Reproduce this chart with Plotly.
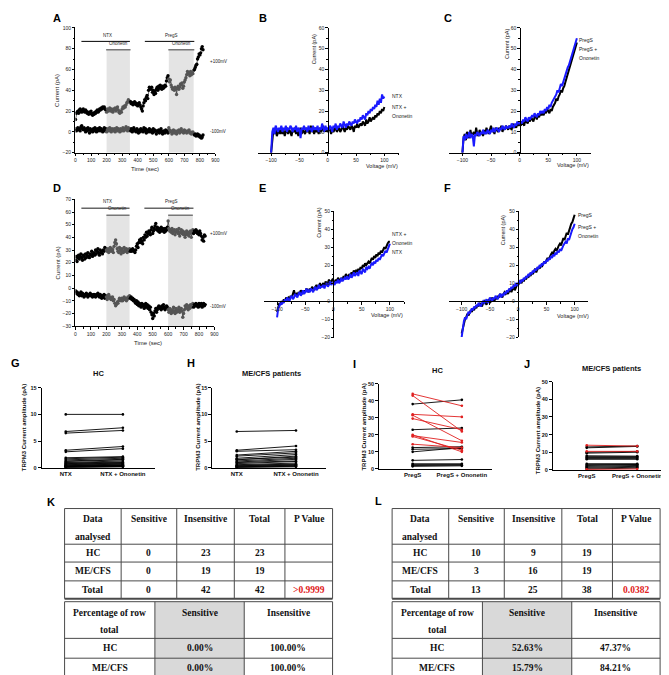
import plotly.graph_objects as go

W, H = 669, 675
def fx(p): return p / W
def fy(p): return 1 - p / H

# ---------------- DATA ----------------
# Panel A: time course (sec) and current (pA)
T_A = list(range(0, 821, 5))
A_hi = [12, 18, 19, 20, 18, 21, 22, 20, 19, 21, 22, 20,
        19, 21, 20, 18, 19, 17, 19, 18, 20, 17, 16, 18,
        17, 19, 18, 20, 21, 19, 20, 22, 21, 23, 22, 24,
        23, 24, 22, 21, 19, 22, 20, 21, 23, 20, 22, 21,
        19, 22, 21, 23, 20, 22, 24, 21, 19, 18, 20, 19,
        22, 24, 23, 25, 24, 26, 28, 29, 31, 30, 28, 29,
        27, 28, 26, 27, 29, 28, 26, 27, 25, 27, 28, 26,
        24, 22, 20, 25, 28, 31, 30, 33, 35, 32, 40, 43,
        42, 41, 43, 38, 40, 36, 39, 37, 41, 43, 40, 44,
        42, 45, 43, 41, 44, 42, 43, 45, 44, 49, 52, 54,
        51, 48, 50, 45, 43, 41, 42, 40, 43, 41, 36, 42,
        44, 41, 43, 46, 45, 47, 42, 44, 48, 50, 52, 55,
        58, 56, 57, 54, 58, 55, 57, 56, 59, 60, 62, 64,
        65, 70, 72, 75, 74, 76, 80, 82, 79]
A_lo = [3, 1, 2, 4, 2, 3, 1, 5, 6, 3, 2, 4,
        2, 0, 3, 1, 4, 2, -1, 3, 1, 2, 0, 3,
        1, 4, 2, 0, 3, 1, 2, 4, 1, 3, 2, 0,
        2, 4, 1, 3, 0, 2, 3, 1, 4, 2, 0, 3,
        2, 1, 3, 0, 2, 4, 1, 3, 2, 0, 3, 1,
        2, 4, 1, 3, 2, 5, 3, 1, 4, 2, 3, 1,
        3, 0, 2, 4, 1, 2, 0, 3, 1, -1, 2, 0,
        3, 1, 2, 0, 4, 1, 3, -1, 2, 0, 1, 3,
        0, 2, 1, -1, 3, 0, 2, 1, -2, 1, 0, 2,
        -1, 1, 3, 0, -2, 1, 0, -1, 2, 0, 1, -1,
        4, 2, 0, 1, -2, 0, 2, -1, 1, 0, -2, 1,
        0, 2, -1, 1, 3, 0, 1, -1, 2, 0, 1, -1,
        0, 1, 2, -1, 0, -2, -1, 0, -2, -3, -2, -4,
        -3, -2, -4, -3, -5, -4, -6, -5, -3]

# Panel D
T_D = list(range(0, 841, 5))
D_hi = [22, 25, 21, 24, 26, 23, 25, 27, 24, 22, 26, 25,
        23, 27, 24, 26, 28, 25, 24, 27, 26, 29, 25, 27,
        28, 26, 30, 27, 29, 31, 28, 26, 30, 28, 29, 27,
        30, 29, 32, 31, 30, 29, 31, 28, 30, 32, 29, 31,
        30, 28, 33, 36, 38, 35, 31, 29, 28, 32, 30, 27,
        31, 29, 28, 32, 30, 29, 31, 28, 30, 29, 31, 29,
        30, 29, 31, 30, 29, 28, 30, 33, 35, 32, 36, 38,
        36, 39, 37, 35, 40, 38, 42, 40, 44, 41, 43, 45,
        44, 42, 46, 48, 43, 45, 47, 49, 51, 46, 48, 45,
        47, 44, 46, 48, 45, 47, 46, 44, 47, 45, 46, 48,
        53, 47, 45, 46, 44, 47, 43, 45, 46, 42, 44, 46,
        45, 43, 47, 41, 44, 46, 43, 45, 42, 44, 40, 43,
        45, 42, 44, 41, 43, 45, 40, 44, 46, 43, 45, 44,
        46, 45, 43, 44, 42, 45, 43, 41, 38, 40, 37, 42,
        41]
D_lo = [-2, -4, -3, -5, -4, -6, -5, -3, -6, -4, -5, -7,
        -5, -6, -4, -5, -7, -6, -5, -4, -6, -5, -7, -6,
        -5, -6, -7, -5, -6, -4, -6, -7, -5, -6, -8, -6,
        -7, -5, -8, -6, -7, -9, -6, -5, -8, -7, -9, -8,
        -7, -10, -9, -12, -14, -13, -11, -12, -10, -8, -9, -10,
        -8, -10, -9, -7, -9, -8, -10, -9, -7, -8, -6, -8,
        -7, -9, -8, -10, -9, -11, -12, -10, -13, -11, -14, -12,
        -13, -15, -12, -14, -13, -16, -14, -12, -15, -13, -16, -14,
        -17, -15, -19, -21, -24, -20, -22, -18, -16, -19, -17, -15,
        -14, -16, -15, -17, -14, -16, -13, -15, -17, -16, -14, -15,
        -17, -19, -16, -18, -20, -17, -19, -15, -18, -20, -16, -19,
        -17, -18, -15, -19, -17, -16, -18, -23, -20, -17, -14, -16,
        -13, -15, -17, -14, -16, -13, -15, -14, -12, -15, -13, -14,
        -12, -14, -13, -15, -12, -14, -13, -12, -15, -13, -12, -14,
        -13]

# I-V curves (mV, pA)
V = list(range(-100, 101, 2))
B_ntx = [0, 8, 11, 9, 12, 8, 10, 11, 9, 12,
         9, 11, 8, 10, 12, 9, 11, 10, 8, 11,
         10, 12, 9, 11, 8, 10, 12, 9, 11, 10,
         9, 12, 10, 11, 9, 13, 10, 11, 9, 12,
         10, 11, 9, 12, 10, 11, 13, 10, 12, 11,
         10, 12, 11, 9, 12, 10, 11, 13, 10, 11,
         12, 10, 11, 13, 11, 10, 12, 11, 13, 12,
         11, 13, 12, 10, 13, 12, 14, 12, 13, 14,
         13, 15, 14, 13, 16, 14, 15, 17, 15, 16,
         17, 16, 18, 17, 19, 18, 20, 19, 21, 20,
         22]
B_ono = [0, 10, 12, 9, 13, 11, 10, 12, 11, 13,
         10, 12, 11, 13, 10, 12, 11, 13, 12, 10,
         12, 11, 13, 10, 12, 11, 7, 12, 11, 13,
         11, 12, 10, 13, 11, 12, 10, 13, 11, 12,
         11, 13, 10, 12, 11, 14, 12, 10, 13, 11,
         12, 11, 13, 12, 10, 13, 12, 14, 11, 13,
         12, 14, 13, 12, 15, 13, 12, 14, 13, 15,
         14, 13, 15, 14, 16, 15, 14, 16, 15, 17,
         16, 18, 17, 16, 19, 18, 20, 19, 21, 20,
         22, 21, 23, 22, 25, 23, 26, 24, 28, 26,
         27]
C_preg = [0, 7, 9, 6, 10, 8, 7, 11, 8, 9,
          10, 8, 12, 9, 8, 11, 9, 10, 8, 11,
          9, 12, 10, 9, 11, 13, 10, 11, 9, 12,
          11, 10, 12, 11, 13, 10, 12, 11, 13, 12,
          11, 13, 12, 11, 14, 12, 13, 12, 14, 13,
          14, 13, 15, 14, 13, 16, 15, 14, 16, 15,
          17, 16, 15, 17, 18, 16, 18, 17, 19, 18,
          19, 18, 20, 19, 21, 20, 19, 21, 20, 22,
          23, 24, 26, 25, 27, 28, 30, 29, 31, 32,
          34, 36, 38, 39, 42, 44, 46, 48, 50, 52,
          53]
C_ono = [0, 8, 6, 9, 7, 8, 10, 7, 9, 8,
         3, 9, 8, 10, 9, 8, 10, 9, 11, 9,
         10, 9, 11, 10, 9, 11, 10, 12, 10, 11,
         12, 11, 10, 12, 11, 13, 12, 11, 13, 12,
         12, 13, 12, 14, 13, 12, 14, 13, 15, 14,
         14, 15, 14, 16, 15, 17, 16, 15, 17, 16,
         17, 18, 17, 19, 18, 17, 19, 18, 20, 19,
         20, 19, 21, 20, 22, 21, 23, 22, 24, 25,
         26, 27, 28, 30, 29, 31, 33, 32, 34, 36,
         37, 39, 41, 42, 44, 46, 48, 50, 52, 54,
         55]
E_ntx = [-9, -4, -3, -1, -2, 0, -1, 1, 0, 2,
         1, 0, 2, 3, 1, 2, 4, 3, 2, 4,
         5, 3, 4, 6, 4, 5, 7, 5, 6, 5,
         7, 6, 5, 7, 8, 6, 7, 9, 7, 8,
         8, 9, 7, 9, 10, 8, 9, 11, 9, 10,
         10, 9, 11, 10, 12, 10, 11, 13, 11, 12,
         13, 12, 14, 12, 13, 15, 13, 14, 16, 14,
         15, 16, 14, 17, 16, 15, 18, 17, 16, 19,
         18, 19, 18, 20, 21, 20, 22, 21, 23, 22,
         24, 23, 25, 26, 25, 27, 28, 27, 29, 31,
         32]
E_ono = [-6, -3, -1, -2, 0, -1, 1, 0, 2, 1,
         2, 1, 3, 2, 4, 6, 3, 4, 3, 5,
         4, 6, 5, 4, 6, 5, 7, 6, 5, 7,
         6, 8, 7, 6, 8, 9, 7, 8, 10, 8,
         9, 10, 8, 11, 9, 10, 12, 10, 11, 12,
         11, 10, 12, 11, 13, 12, 11, 13, 12, 14,
         13, 15, 14, 13, 15, 14, 16, 15, 17, 16,
         17, 16, 18, 17, 19, 18, 20, 19, 21, 20,
         21, 22, 21, 23, 24, 23, 25, 24, 26, 25,
         27, 26, 28, 27, 29, 30, 29, 31, 32, 33,
         33]
F_preg = [-18, -15, -12, -10, -9, -7, -8, -6, -5, -6,
          -4, -5, -3, -4, -2, -3, -1, -2, -3, -1,
          0, -1, -2, 0, 1, -1, 0, 2, 1, 0,
          2, 1, 3, 2, 4, 3, 2, 4, 5, 4,
          5, 4, 6, 7, 5, 7, 8, 6, 8, 9,
          9, 10, 11, 10, 12, 11, 13, 12, 14, 13,
          15, 14, 16, 15, 17, 18, 16, 18, 19, 18,
          20, 19, 21, 22, 21, 23, 24, 23, 25, 26,
          27, 26, 28, 29, 28, 30, 31, 32, 31, 33,
          35, 34, 36, 38, 37, 40, 41, 43, 44, 46,
          48]
F_ono = [-20, -14, -11, -9, -10, -8, -6, -7, -5, -4,
         -5, -3, -4, -2, -3, -1, -2, -3, -1, 0,
         -1, 0, 1, -1, 0, 2, 1, 0, 2, 1,
         3, 2, 1, 3, 4, 2, 4, 3, 5, 4,
         6, 5, 7, 6, 8, 7, 9, 8, 10, 9,
         10, 11, 10, 12, 11, 13, 12, 14, 13, 15,
         14, 16, 15, 17, 16, 18, 17, 19, 18, 20,
         19, 21, 20, 22, 21, 23, 22, 24, 23, 25,
         24, 26, 25, 27, 26, 28, 27, 29, 28, 30,
         31, 32, 33, 32, 35, 34, 37, 38, 40, 41,
         43]

# Paired amplitude panels (pA): before, after, sensitive flag
G_cats = ["NTX", "NTX + Ononetin"]
G_before = [10, 6.8, 6.5, 3.3, 3.0, 1.9, 1.7, 1.5, 1.3, 1.2, 1.0, 0.9, 0.8, 0.7, 0.6, 0.5, 0.4, 0.35, 0.3, 0.25, 0.2, 0.15, 0.1]
G_after = [10, 7.5, 7.0, 4.0, 3.6, 2.1, 2.0, 1.8, 1.6, 1.5, 1.3, 1.1, 1.0, 0.9, 0.8, 0.7, 0.6, 0.5, 0.45, 0.4, 0.3, 0.25, 0.2]
G_red = [0] * 23
H_before = [6.8, 3.3, 3.1, 2.4, 2.2, 1.8, 1.6, 1.5, 1.3, 1.1, 1.0, 0.8, 0.6, 0.5, 0.4, 0.3, 0.2, 0.15, 0.1]
H_after = [7.0, 4.1, 3.4, 3.1, 2.8, 2.5, 2.0, 2.2, 1.8, 1.6, 1.3, 1.2, 0.9, 0.7, 0.6, 0.5, 0.4, 0.3, 0.2]
H_red = [0] * 19
I_cats = ["PregS", "PregS + Ononetin"]
I_before = [44, 43, 38, 32, 31.5, 29.5, 23, 20, 19.5, 19, 14.5, 12.5, 11.5, 10, 5, 3, 2.5, 2, 1.5]
I_after = [37, 22, 40.5, 30.5, 16.5, 23, 24, 10, 15.5, 11, 12.5, 13, 12, 12.5, 5.5, 3, 2.5, 2.2, 1.8]
I_red = [1, 1, 0, 1, 1, 1, 0, 1, 1, 1, 1, 0, 0, 0, 0, 0, 0, 0, 0]
J_before = [14, 13, 12.5, 10.5, 10, 9.5, 8, 7.5, 7, 6.5, 6, 3.5, 3, 2.5, 2, 1.5, 1, 0.5, 0.3]
J_after = [13.5, 13.5, 13.3, 10.5, 10.5, 10, 7.8, 7.5, 7, 6.5, 6, 3.5, 3, 3, 2.5, 2, 1.5, 1, 0.5]
J_red = [1, 0, 0, 1, 0, 0, 0, 0, 0, 0, 0, 0, 0, 0, 0, 0, 0, 0, 1]

# Tables
TAB_head = ["Data<br>analysed", "Sensitive", "Insensitive", "Total", "P Value"]
TAB_rows = ["HC", "ME/CFS", "Total"]
K_sens = [0, 0, 0]
K_insens = [23, 19, 42]
K_total = [23, 19, 42]
K_p = ["", "", ">0.9999"]
PCT_head = ["Percentage of row<br>total", "Sensitive", "Insensitive"]
PCT_rows = ["HC", "ME/CFS"]
K_pct_sens = ["0.00%", "0.00%"]
K_pct_ins = ["100.00%", "100.00%"]
L_sens = [10, 3, 13]
L_insens = [9, 16, 25]
L_total = [19, 19, 38]
L_p = ["", "", "0.0382"]
L_pct_sens = ["52.63%", "15.79%"]
L_pct_ins = ["47.37%", "84.21%"]

# ---------------- FIGURE ----------------
fig = go.Figure()
layout = {}
ann = []
shapes = []
SANS = "Liberation Sans"
SERIF = "Liberation Serif"
BLUE = "#1a1aff"


def axes(n, xd, yd, xr, yr):
    xa = dict(domain=[fx(xd[0]), fx(xd[1])], range=xr, anchor=f"y{n}",
              showline=True, linecolor="black", linewidth=0.8, showgrid=False,
              zeroline=False, ticks="outside", ticklen=2.5, tickwidth=0.7,
              tickcolor="black", tickfont=dict(size=5, family=SANS, color="#222"))
    ya = dict(domain=[fy(yd[1]), fy(yd[0])], range=yr, anchor=f"x{n}",
              showline=True, linecolor="black", linewidth=0.8, showgrid=False,
              zeroline=False, ticks="outside", ticklen=2.5, tickwidth=0.7,
              tickcolor="black", tickfont=dict(size=5, family=SANS, color="#222"))
    sfx = "" if n == 1 else str(n)
    layout["xaxis" + sfx] = xa
    layout["yaxis" + sfx] = ya
    return xa, ya


def txt(x, y, s, size=5.5, bold=False, angle=0, xanchor="center", yanchor="middle",
        color="#222", family=SANS, xref="paper", yref="paper"):
    if xref == "paper":
        x, y = fx(x), fy(y)
    ann.append(dict(x=x, y=y, xref=xref, yref=yref, text=s, showarrow=False, textangle=angle,
                    xanchor=xanchor, yanchor=yanchor,
                    font=dict(size=size, family=family, color=color,
                              weight="bold" if bold else "normal")))


def shaded(colors_t):
    return ["#555555" if (200 <= t <= 350 or 600 <= t <= 760) else "black" for t in colors_t]


# ----- Panel A (axis 1) -----
xa, ya = axes(1, (67, 208), (17, 143), [0, 900], [-20, 100])
xa.update(dtick=100, minor=dict(ticks="outside", ticklen=1.5, dtick=50, tickcolor="black"))
ya.update(dtick=20, minor=dict(ticks="outside", ticklen=1.5, dtick=10, tickcolor="black"))
for yv in (A_hi, A_lo):
    fig.add_trace(go.Scatter(x=T_A, y=yv, mode="lines+markers", xaxis="x", yaxis="y",
                             line=dict(color="black", width=0.6),
                             marker=dict(size=3.4, color=shaded(T_A)), showlegend=False))
for x0, x1 in ((200, 350), (600, 760)):
    shapes.append(dict(type="rect", xref="x", yref="y", x0=x0, x1=x1, y0=-20, y1=79,
                       fillcolor="#e4e4e4", line=dict(width=0), layer="below"))
    shapes.append(dict(type="line", xref="x", yref="y", x0=x0 - 3, x1=x1 + 4, y0=79, y1=79,
                       line=dict(color="#777", width=1.5)))
    txt((x0 + x1) / 2, 80.5, "Ononetin", size=4.5, xref="x", yref="y", yanchor="bottom")
for x0, x1, lab in ((38, 350, "NTX"), (446, 764, "PregS")):
    shapes.append(dict(type="line", xref="x", yref="y", x0=x0, x1=x1, y0=87, y1=87,
                       line=dict(color="black", width=1)))
    txt((x0 + x1) / 2 + 15, 88.5, lab, size=4.5, xref="x", yref="y", yanchor="bottom")
txt(201, 51, "+100mV", size=4.5, xanchor="left")
txt(201, 122, "-100mV", size=4.5, xanchor="left")
txt(49, 80, "Current (pA)", size=6, angle=-90)
txt(137, 159, "Time (sec)", size=6)

# ----- Panel D (axis 4) -----
xa, ya = axes(4, (67, 207), (190, 318), [0, 900], [-30, 70])
xa.update(dtick=100, minor=dict(ticks="outside", ticklen=1.5, dtick=50, tickcolor="black"))
ya.update(dtick=10)
for yv in (D_hi, D_lo):
    fig.add_trace(go.Scatter(x=T_D, y=yv, mode="lines+markers", xaxis="x4", yaxis="y4",
                             line=dict(color="black", width=0.6),
                             marker=dict(size=3.4, color=shaded(T_D)), showlegend=False))
for x0, x1 in ((200, 350), (600, 760)):
    shapes.append(dict(type="rect", xref="x4", yref="y4", x0=x0, x1=x1, y0=-30, y1=57.5,
                       fillcolor="#e4e4e4", line=dict(width=0), layer="below"))
    shapes.append(dict(type="line", xref="x4", yref="y4", x0=x0, x1=x1, y0=57.5, y1=57.5,
                       line=dict(color="#777", width=1.5)))
    txt((x0 + x1) / 2, 59, "Ononetin", size=4.5, xref="x4", yref="y4", yanchor="bottom")
for x0, x1, lab in ((38, 350, "NTX"), (446, 764, "PregS")):
    shapes.append(dict(type="line", xref="x4", yref="y4", x0=x0, x1=x1, y0=63, y1=63,
                       line=dict(color="#666", width=1.4)))
    txt((x0 + x1) / 2 + 15, 64.5, lab, size=4.5, xref="x4", yref="y4", yanchor="bottom")
txt(200, 225, "+100mV", size=4.5, xanchor="left")
txt(200, 298, "-100mV", size=4.5, xanchor="left")
txt(49, 254, "Current (pA)", size=6, angle=-90)
txt(140, 335, "Time (sec)", size=6)


# ----- I-V panels -----
def iv_panel(n, xd, yd, xr, yr, y_dtick, black, blue, labels, ytitle_pos, xtitle_pos):
    xa, ya = axes(n, xd, yd, xr, yr)
    zx = xd[0] + (0 - xr[0]) / (xr[1] - xr[0]) * (xd[1] - xd[0])
    ya.update(anchor="free", position=fx(zx), dtick=y_dtick,
              minor=dict(ticks="outside", ticklen=1.5, dtick=y_dtick / 2, tickcolor="black"))
    if yr[0] < 0:
        zy = yd[1] - (0 - yr[0]) / (yr[1] - yr[0]) * (yd[1] - yd[0])
        xa.update(anchor="free", position=fy(zy))
    xa.update(tickvals=[-100, -50, 0, 50, 100],
              minor=dict(ticks="outside", ticklen=1.5, dtick=25, tick0=0, tickcolor="black"))
    fig.add_trace(go.Scatter(x=V, y=black, mode="lines", xaxis=f"x{n}", yaxis=f"y{n}",
                             line=dict(color="black", width=2.0), showlegend=False))
    fig.add_trace(go.Scatter(x=V, y=blue, mode="lines", xaxis=f"x{n}", yaxis=f"y{n}",
                             line=dict(color=BLUE, width=2.0), showlegend=False))
    for (lx, ly, s) in labels:
        txt(lx, ly, s, size=5, xanchor="left")
    txt(ytitle_pos[0], ytitle_pos[1], "Current (pA)", size=5.5, angle=-90)
    txt(xtitle_pos[0], xtitle_pos[1], "Voltage (mV)", size=5.5)


iv_panel(2, (251, 393), (17, 143), [-123, 126], [0, 60], 10, B_ntx, B_ono,
         [(384, 86, "NTX"), (384, 97, "NTX +"), (384, 106, "Ononetin")], (307, 39), (376, 156))
iv_panel(3, (443, 586), (17, 143), [-124, 124], [0, 60], 10, C_preg, C_ono,
         [(572, 29, "PregS"), (572, 38, "PregS +"), (572, 47, "Ononetin")], (501, 33), (568, 155))
iv_panel(5, (257, 398), (202, 329), [-123, 125], [-20, 50], 10, E_ono, E_ntx,
         [(384, 225, "NTX +"), (384, 234, "Ononetin"), (384, 243, "NTX")], (312, 214), (381, 307))
iv_panel(6, (443, 583), (202, 329), [-123, 123], [-20, 50], 10, F_preg, F_ono,
         [(571, 206, "PregS"), (571, 218, "PregS +"), (571, 227, "Ononetin")], (498, 221), (568, 308))


# ----- Paired panels -----
def paired(n, xd, yd, xr, yr, y_dtick, cats, before, after, red, title, title_pos, ytl_pos):
    xa, ya = axes(n, xd, yd, xr, yr)
    xa.update(tickvals=[0, 1], ticktext=cats, ticks="", linewidth=1,
              tickfont=dict(size=6, family=SANS, color="#111", weight="bold"))
    ya.update(dtick=y_dtick, linewidth=1, ticklen=3, tickwidth=0.9,
              tickfont=dict(size=5.5, family=SANS, color="#111", weight="bold"))
    for flag, col in ((0, "black"), (1, "#e02020")):
        xs, ys = [], []
        for b, a, r in zip(before, after, red):
            if r == flag:
                xs += [0, 1, None]
                ys += [b, a, None]
        if xs:
            fig.add_trace(go.Scatter(x=xs, y=ys, mode="lines+markers", xaxis=f"x{n}", yaxis=f"y{n}",
                                     line=dict(color=col, width=0.9),
                                     marker=dict(size=2.6, color=col if flag else "black"),
                                     cliponaxis=False, showlegend=False))
    txt(title_pos[0], title_pos[1], title, size=7.5, bold=True, color="#111")
    txt(ytl_pos[0], ytl_pos[1], "TRPM3 Current amplitude (pA)", size=6, bold=True, angle=-90,
        color="#111")


paired(7, (33, 147), (380, 461), [-0.42, 1.56], [0, 15], 5, G_cats, G_before, G_after, G_red,
       "HC", (90, 366), (15, 420))
paired(8, (205, 319), (380, 461), [-0.41, 1.5], [0, 15], 5, G_cats, H_before, H_after, H_red,
       "ME/CFS patients", (264, 366), (191, 420))
paired(9, (373, 487), (376, 462), [-0.68, 1.62], [0, 50], 10, I_cats, I_before, I_after, I_red,
       "HC", (432, 363), (358, 420))
paired(10, (548, 665), (374, 463), [-0.67, 1.63], [0, 50], 10, I_cats, J_before, J_after, J_red,
       "ME/CFS patients", (607, 361), (533, 424))

# ----- Panel letters -----
for s, x, y in (("A", 48, 7), ("B", 256, 7), ("C", 442, 7), ("D", 48, 179), ("E", 255, 179),
                ("F", 442, 179), ("G", 7, 355), ("H", 183, 355), ("I", 348, 356), ("J", 522, 356),
                ("K", 42, 495), ("L", 372, 494)):
    txt(x, y, s, size=11, bold=True, color="black")


# ----- Tables (drawn as grid shapes + text) -----
LC = "#4a4a4a"
GRAY = "#d9d9d9"
TFS = 9.5


def grid(cols, rows, fills=None):
    if fills:
        for ci, colr in fills:
            shapes.append(dict(type="rect", xref="paper", yref="paper",
                               x0=fx(cols[ci]), x1=fx(cols[ci + 1]),
                               y0=fy(rows[-1]), y1=fy(rows[0]),
                               fillcolor=colr, line=dict(width=0), layer="below"))
    for xv in cols:
        shapes.append(dict(type="line", xref="paper", yref="paper", x0=fx(xv), x1=fx(xv),
                           y0=fy(rows[-1]), y1=fy(rows[0]), line=dict(color=LC, width=1)))
    for i, yv in enumerate(rows):
        w = 1.8 if i == len(rows) - 1 else 1
        shapes.append(dict(type="line", xref="paper", yref="paper", x0=fx(cols[0]), x1=fx(cols[-1]),
                           y0=fy(yv), y1=fy(yv), line=dict(color=LC, width=w)))


def cell_text(xc, ytop, s, color="#111"):
    for k, part in enumerate(str(s).split("<br>")):
        if part:
            txt(xc, ytop + 10 + 18 * k, part, size=TFS, bold=True, color=color, family=SERIF)


def tables(x0, x1, sens, insens, total, pv, pct_s, pct_i):
    cw = [57, 56, 58, 51, 48]
    cols = [x0]
    for w in cw:
        cols.append(cols[-1] + w)
    cols[-1] = x1
    rows = [502, 538, 556, 575, 593]
    grid(cols, rows)
    centers = [(cols[i] + cols[i + 1]) / 2 for i in range(5)]
    for i, h in enumerate(TAB_head):
        cell_text(centers[i], rows[0] + 1, h)
    colvals = [TAB_rows, sens, insens, total, pv]
    for r in range(3):
        ymid = (rows[r + 1] + rows[r + 2]) / 2
        for c in range(5):
            v = colvals[c][r]
            colr = "#e02020" if c == 4 else "#111"
            txt(centers[c], ymid, str(v), size=TFS, bold=True, color=colr, family=SERIF)
    cw2 = [91, 90, 89]
    cols2 = [x0]
    for w in cw2:
        cols2.append(cols2[-1] + w)
    cols2[-1] = x1
    rows2 = [596, 633, 653, 673]
    grid(cols2, rows2, fills=[(1, GRAY)])
    c2 = [(cols2[i] + cols2[i + 1]) / 2 for i in range(3)]
    for i, h in enumerate(PCT_head):
        cell_text(c2[i], rows2[0] + 1, h)
    vals2 = [PCT_rows, pct_s, pct_i]
    for r in range(2):
        ymid = (rows2[r + 1] + rows2[r + 2]) / 2
        for c in range(3):
            txt(c2[c], ymid, vals2[c][r], size=TFS, bold=True, color="#111", family=SERIF)


tables(56, 326, K_sens, K_insens, K_total, K_p, K_pct_sens, K_pct_ins)
tables(386, 656, L_sens, L_insens, L_total, L_p, L_pct_sens, L_pct_ins)

layout.update(width=W, height=H, margin=dict(l=0, r=0, t=0, b=0), autosize=False,
              paper_bgcolor="white", plot_bgcolor="white", showlegend=False,
              annotations=ann, shapes=shapes)
fig.update_layout(**layout)
fig.write_html("out.html")
